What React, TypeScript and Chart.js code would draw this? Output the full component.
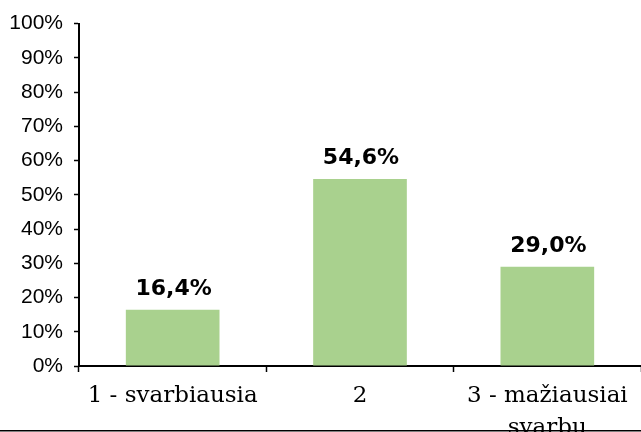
import React, { useEffect, useRef } from "react";
import { Chart, registerables } from "chart.js";

Chart.register(...registerables);

const categories: (string | string[])[] = ["1 - svarbiausia", "2", ["3 - mažiausiai", "svarbu"]];
const values: number[] = [16.4, 54.6, 29.0];
const yTicks: number[] = [0, 10, 20, 30, 40, 50, 60, 70, 80, 90, 100];

const fmt = (v: number) => v.toFixed(1).replace(".", ",") + "%";

const dataLabels = {
  id: "dataLabels",
  afterDatasetsDraw(chart: any) {
    const ctx = chart.ctx;
    const meta = chart.getDatasetMeta(0);
    ctx.save();
    ctx.font = 'bold 22px "DejaVu Sans"';
    ctx.fillStyle = "#000";
    ctx.textAlign = "center";
    ctx.textBaseline = "alphabetic";
    meta.data.forEach((bar: any, i: number) => {
      ctx.fillText(fmt(values[i]), bar.x + 1, bar.y - 15);
    });
    ctx.restore();
  },
  afterDraw(chart: any) {
    const ctx = chart.ctx;
    ctx.save();
    ctx.strokeStyle = "#000";
    ctx.lineWidth = 1.5;
    ctx.beginPath();
    ctx.moveTo(0, 430.75);
    ctx.lineTo(chart.width, 430.75);
    ctx.stroke();
    ctx.restore();
  },
};

export default function App() {
  const ref = useRef<HTMLCanvasElement | null>(null);
  useEffect(() => {
    document.body.style.margin = "0";
    const chart = new Chart(ref.current!, {
      type: "bar",
      data: {
        labels: categories as any,
        datasets: [
          {
            data: values,
            backgroundColor: "#a9d18e",
            barPercentage: 0.5,
            categoryPercentage: 1,
          },
        ],
      },
      options: {
        animation: false,
        responsive: false,
        maintainAspectRatio: false,
        layout: { padding: { top: 22, left: 0, right: 0, bottom: 0 } },
        plugins: { legend: { display: false }, tooltip: { enabled: false } },
        scales: {
          x: {
            afterFit: (s: any) => {
              s.height = 66;
            },
            grid: {
              display: true,
              drawOnChartArea: false,
              drawTicks: true,
              tickLength: 6,
              tickColor: "#000",
              tickWidth: 1.5,
              offset: true,
            },
            border: { display: true, color: "#000", width: 2 },
            ticks: {
              color: "#000",
              padding: 8,
              maxRotation: 0,
              autoSkip: false,
              font: { family: '"DejaVu Serif"', size: 23, lineHeight: 1.38 },
            },
          },
          y: {
            min: 0,
            max: 100,
            afterFit: (s: any) => {
              s.width = 79;
            },
            afterBuildTicks: (s: any) => {
              s.ticks = yTicks.map((v) => ({ value: v }));
            },
            grid: {
              display: true,
              drawOnChartArea: false,
              drawTicks: true,
              tickLength: 5,
              tickColor: "#000",
              tickWidth: 1.5,
            },
            border: { display: true, color: "#000", width: 2 },
            ticks: {
              color: "#000",
              padding: 11,
              font: { family: '"Liberation Sans"', size: 21 },
              callback: (v: any) => v + "%",
            },
          },
        },
      },
      plugins: [dataLabels],
    });
    return () => chart.destroy();
  }, []);
  return (
    <div style={{ position: "absolute", left: 0, top: 0, width: 641, height: 432 }}>
      <canvas ref={ref} width={641} height={432} style={{ display: "block" }} />
    </div>
  );
}
